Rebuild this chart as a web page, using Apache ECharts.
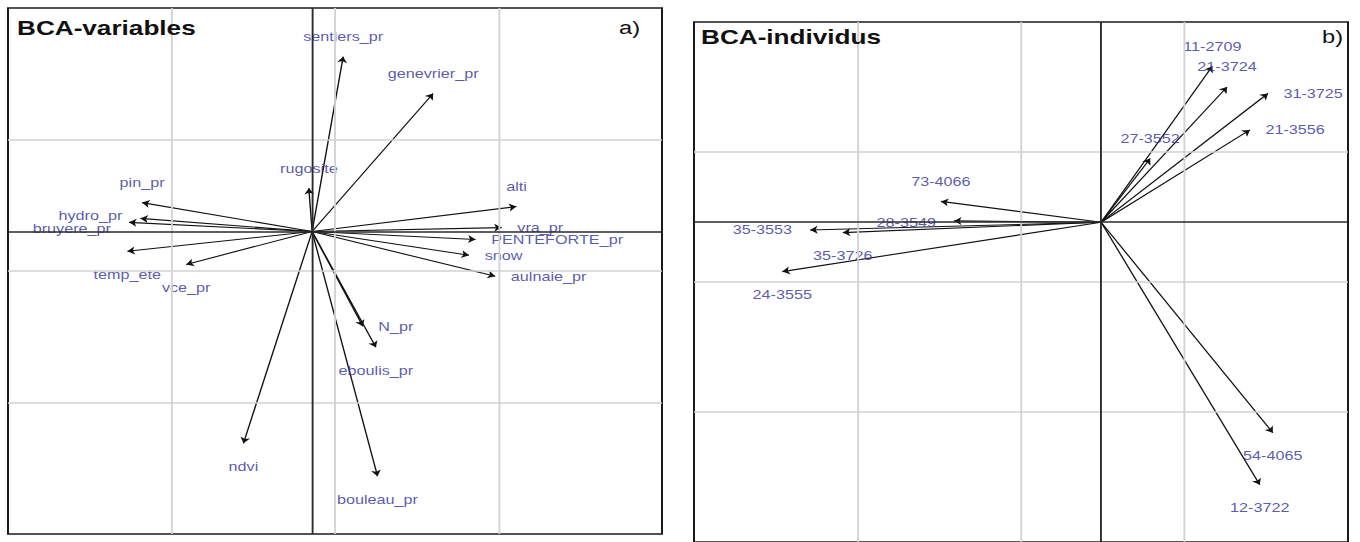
<!DOCTYPE html>
<html>
<head>
<meta charset="utf-8">
<script src="https://cdn.jsdelivr.net/npm/echarts@6/dist/echarts.min.js"></script>
<style>
  html, body { margin: 0; padding: 0; background: #fff; overflow: hidden; }
  #wrap { width: 1360px; height: 542px; overflow: hidden; }
  /* the figure is laid out on a narrower canvas and widened horizontally */
  #chart { width: 1092px; height: 542px; transform: scaleX(1.24542); transform-origin: 0 0; }
</style>
</head>
<body>
<div id="wrap"><div id="chart"></div></div>
<script>
// ---- BCA: variables (arrow tips, in grid units) ----
const varNames = ['sentiers_pr', 'genevrier_pr', 'rugosite', 'pin_pr', 'hydro_pr', 'bruyere_pr',
  'temp_ete', 'vce_pr', 'alti', 'vra_pr', 'PENTEFORTE_pr', 'snow', 'aulnaie_pr', 'N_pr',
  'eboulis_pr', 'bouleau_pr', 'ndvi'];
const varX = [0.19, 0.74, -0.02, -1.04, -1.05, -1.12, -1.13, -0.77, 1.25, 1.16, 1.00, 0.96, 1.12, 0.31, 0.39, 0.40, -0.42];
const varY = [1.33, 1.05, 0.33, 0.22, 0.10, 0.07, -0.15, -0.25, 0.19, 0.03, -0.06, -0.18, -0.34, -0.72, -0.88, -1.86, -1.61];

// ---- BCA: individuals (arrow tips, in grid units) ----
const indNames = ['11-2709', '21-3724', '31-3725', '21-3556', '27-3552', '73-4066', '28-3549',
  '35-3553', '35-3726', '24-3555', '54-4065', '12-3722'];
const indX = [0.68, 0.77, 1.02, 0.91, 0.30, -0.98, -0.90, -1.78, -1.58, -1.95, 1.05, 0.97];
const indY = [1.20, 1.04, 0.99, 0.71, 0.49, 0.16, 0.01, -0.06, -0.08, -0.38, -1.62, -2.02];

// ---- axis extents and reference grid lines ----
const varXRange = [-1.86, 2.14], varYRange = [-2.30, 1.70];
const varXGrid = [-0.86, 0.14, 1.14], varYGrid = [0.70, -0.30, -1.30];
const indXRange = [-2.49, 1.51], indYRange = [-2.46, 1.54];
const indXGrid = [-1.49, -0.49, 0.51], indYGrid = [0.54, -0.46, -1.46];

// ---- label placement around each arrow tip ----
const varLabelSide = ['top', 'top', 'top', 'top', 'left', 'left', 'bottom', 'bottom', 'top',
  'right', 'right', 'right', 'right', 'right', 'bottom', 'bottom', 'bottom'];
const varLabelNudge = { hydro_pr: [0, -3], bruyere_pr: [0, 6] };
const indLabelSide = ['top', 'top', 'right', 'right', 'top', 'top', 'left', 'left',
  'bottom', 'bottom', 'bottom', 'bottom'];
const indLabelNudge = { '28-3549': [0, 2] };

const SX = 1360 / 1092;          // horizontal widening applied to the canvas
const px = v => v / SX;          // final-pixel x -> layout x
const sideDistance = { top: 13, bottom: 16, left: 14, right: 12 };
const LABEL_COLOR = '#30309a';
const FONT = '"Liberation Sans", Arial, sans-serif';

function gridLines(xs, ys) {
  const data = [];
  xs.forEach(v => data.push({ xAxis: v }));
  ys.forEach(v => data.push({ yAxis: v }));
  data.push({ xAxis: 0, lineStyle: { color: '#2a2a2a', width: 1.5 } });
  data.push({ yAxis: 0, lineStyle: { color: '#2a2a2a', width: 1.5 } });
  return data;
}

function panelSeries(idx, names, xs, ys, sides, nudge, xGrid, yGrid) {
  return [
    {
      type: 'scatter', xAxisIndex: idx, yAxisIndex: idx, data: [], z: 1, silent: true,
      markLine: {
        silent: true, symbol: 'none', label: { show: false }, animation: false,
        lineStyle: { color: '#d2d2d2', width: 1.5, type: 'solid' },
        data: gridLines(xGrid, yGrid)
      }
    },
    {
      type: 'lines', coordinateSystem: 'cartesian2d', xAxisIndex: idx, yAxisIndex: idx, z: 3,
      symbol: ['none', 'arrow'], symbolSize: 6, silent: true,
      lineStyle: { color: '#111', width: 1.1, opacity: 1 },
      data: names.map((n, i) => ({ name: n, coords: [[0, 0], [xs[i], ys[i]]] }))
    },
    {
      type: 'scatter', xAxisIndex: idx, yAxisIndex: idx, z: 4, silent: true,
      symbolSize: 1, itemStyle: { color: 'rgba(0,0,0,0)' },
      label: {
        show: true, formatter: '{b}', color: LABEL_COLOR, fontSize: 13, fontFamily: FONT
      },
      data: names.map((n, i) => ({
        name: n, value: [xs[i], ys[i]],
        label: { position: sides[i], distance: sideDistance[sides[i]], offset: nudge[n] || [0, 0] }
      }))
    }
  ];
}

const chart = echarts.init(document.getElementById('chart'), null, { renderer: 'svg' });
chart.setOption({
  animation: false,
  backgroundColor: '#fff',
  title: [
    { text: 'BCA-variables', left: px(17), top: 17, padding: 0,
      textStyle: { fontSize: 21, fontWeight: 'bold', color: '#111', fontFamily: FONT } },
    { text: 'a)', left: px(619), top: 18, padding: 0,
      textStyle: { fontSize: 19, fontWeight: 'normal', color: '#111', fontFamily: FONT } },
    { text: 'BCA-individus', left: px(701), top: 26, padding: 0,
      textStyle: { fontSize: 21, fontWeight: 'bold', color: '#111', fontFamily: FONT } },
    { text: 'b)', left: px(1322), top: 27, padding: 0,
      textStyle: { fontSize: 19, fontWeight: 'normal', color: '#111', fontFamily: FONT } }
  ],
  grid: [
    { left: px(8), top: 8, width: px(654), height: 526, show: true,
      borderColor: '#1a1a1a', borderWidth: 1.6, backgroundColor: '#fff' },
    { left: px(694), top: 22, width: px(654), height: 525, show: true,
      borderColor: '#1a1a1a', borderWidth: 1.6, backgroundColor: '#fff' }
  ],
  xAxis: [
    { type: 'value', gridIndex: 0, min: varXRange[0], max: varXRange[1], show: false },
    { type: 'value', gridIndex: 1, min: indXRange[0], max: indXRange[1], show: false }
  ],
  yAxis: [
    { type: 'value', gridIndex: 0, min: varYRange[0], max: varYRange[1], show: false },
    { type: 'value', gridIndex: 1, min: indYRange[0], max: indYRange[1], show: false }
  ],
  series: [
    ...panelSeries(0, varNames, varX, varY, varLabelSide, varLabelNudge, varXGrid, varYGrid),
    ...panelSeries(1, indNames, indX, indY, indLabelSide, indLabelNudge, indXGrid, indYGrid)
  ]
});
</script>
</body>
</html>
